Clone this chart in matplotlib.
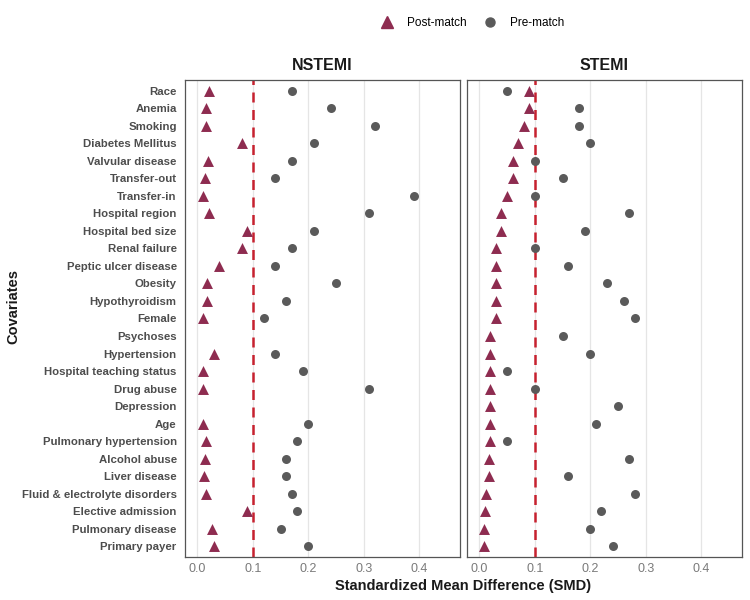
import numpy as np
import matplotlib.pyplot as plt
from matplotlib.lines import Line2D

plt.rcParams['font.family'] = ['Liberation Sans', 'DejaVu Sans']

covariates = ["Race", "Anemia", "Smoking", "Diabetes Mellitus", "Valvular disease",
              "Transfer-out", "Transfer-in", "Hospital region", "Hospital bed size",
              "Renal failure", "Peptic ulcer disease", "Obesity", "Hypothyroidism",
              "Female", "Psychoses", "Hypertension", "Hospital teaching status",
              "Drug abuse", "Depression", "Age", "Pulmonary hypertension",
              "Alcohol abuse", "Liver disease", "Fluid & electrolyte disorders",
              "Elective admission", "Pulmonary disease", "Primary payer"]

# NSTEMI (None = not shown)
nstemi_post = [0.022, 0.016, 0.016, 0.080, 0.019, 0.014, 0.011, 0.021, 0.090,
               0.080, 0.040, 0.018, 0.018, 0.011, None, 0.030, 0.010, 0.011,
               None, 0.010, 0.015, 0.014, 0.012, 0.016, 0.090, 0.026, 0.030]
nstemi_pre = [0.17, 0.24, 0.32, 0.21, 0.17, 0.14, 0.39, 0.31, 0.21,
              0.17, 0.14, 0.25, 0.16, 0.12, None, 0.14, 0.19, 0.31,
              None, 0.20, 0.18, 0.16, 0.16, 0.17, 0.18, 0.15, 0.20]

# STEMI
stemi_post = [0.090, 0.090, 0.080, 0.070, 0.060, 0.060, 0.050, 0.040, 0.040,
              0.030, 0.030, 0.030, 0.030, 0.030, 0.020, 0.020, 0.020, 0.020,
              0.020, 0.020, 0.020, 0.018, 0.017, 0.012, 0.010, 0.009, 0.008]
stemi_pre = [0.05, 0.18, 0.18, 0.20, 0.10, 0.15, 0.10, 0.27, 0.19,
             0.10, 0.16, 0.23, 0.26, 0.28, 0.15, 0.20, 0.05, 0.10,
             0.25, 0.21, 0.05, 0.27, 0.16, 0.28, 0.22, 0.20, 0.24]

panels = [("NSTEMI", nstemi_post, nstemi_pre), ("STEMI", stemi_post, stemi_pre)]

POST_COL = "#8E2C50"
PRE_COL = "#5A5A5A"
LINE_COL = "#C6212F"
TXT_COL = "#4D4D4D"

fig = plt.figure(figsize=(7.5, 6), dpi=100)
ypos = np.arange(len(covariates))[::-1]

axes = [fig.add_axes([0.2467, 0.0717, 0.3666, 0.795]),
        fig.add_axes([0.6227, 0.0717, 0.3666, 0.795])]

for ax, (title, post, pre) in zip(axes, panels):
    pre_x = [v for v in pre if v is not None]
    pre_y = [y for v, y in zip(pre, ypos) if v is not None]
    post_x = [v for v in post if v is not None]
    post_y = [y for v, y in zip(post, ypos) if v is not None]

    ax.axvline(0.1, color=LINE_COL, linestyle=(0, (4, 3)), linewidth=1.8, zorder=2)
    ax.scatter(pre_x, pre_y, marker="o", s=42, color=PRE_COL, zorder=3, linewidths=0)
    ax.scatter(post_x, post_y, marker="^", s=62, color=POST_COL, zorder=4, linewidths=0)

    ax.set_xlim(-0.022, 0.473)
    ax.set_ylim(-0.6, len(covariates) - 0.4)
    ax.set_xticks([0.0, 0.1, 0.2, 0.3, 0.4])
    ax.set_xticklabels(["0.0", "0.1", "0.2", "0.3", "0.4"])
    ax.grid(axis="x", color="#E5E5E5", linewidth=0.9, zorder=0)
    ax.set_axisbelow(True)
    ax.tick_params(axis="x", length=0, labelsize=9, colors="#7A7A7A", pad=4)
    ax.tick_params(axis="y", length=0, pad=6)
    for s in ax.spines.values():
        s.set_color("#555555")
        s.set_linewidth(0.9)
    ax.set_title(title, fontsize=11.5, fontweight="bold", color="#1A1A1A", pad=7)
    ax.set_yticks(ypos)

axes[0].set_yticklabels(covariates, fontsize=8.2, fontweight="bold", color=TXT_COL)
axes[1].set_yticklabels([])

fig.text(0.018, 0.49, "Covariates", rotation=90, fontsize=10.5, fontweight="bold",
         ha="center", va="center", color="#1A1A1A")
fig.text(0.618, 0.024, "Standardized Mean Difference (SMD)", fontsize=10.5,
         fontweight="bold", ha="center", va="center", color="#1A1A1A")

handles = [Line2D([], [], marker="^", linestyle="", color=POST_COL, markersize=8.5),
           Line2D([], [], marker="o", linestyle="", color=PRE_COL, markersize=6.5)]
fig.legend(handles, ["Post-match", "Pre-match"], loc="center", ncol=2,
           bbox_to_anchor=(0.626, 0.962), frameon=False, fontsize=8.5,
           handletextpad=0.7, columnspacing=1.0)

fig.savefig("out.png", dpi=100, facecolor="white")
